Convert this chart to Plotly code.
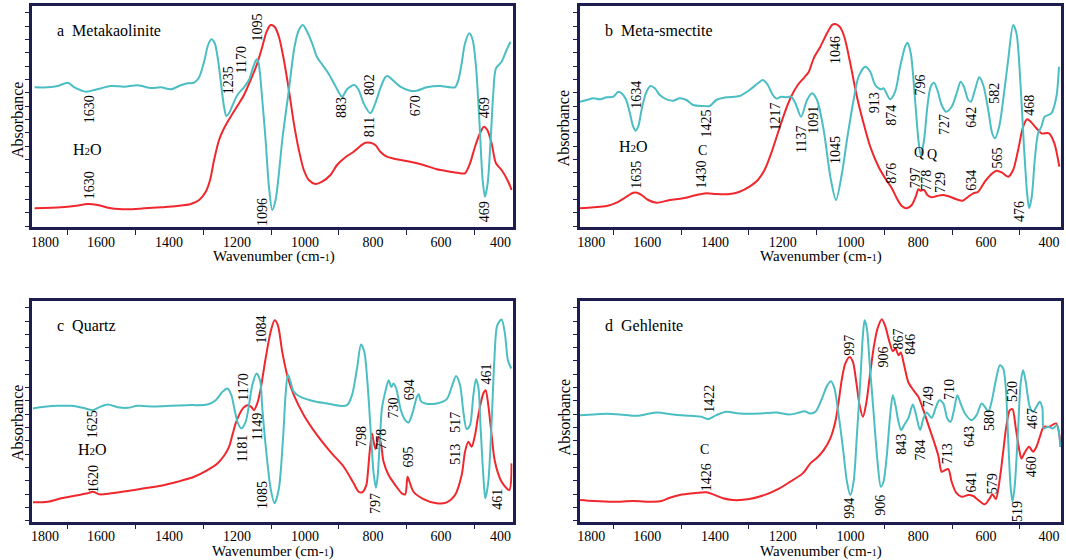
import plotly.graph_objects as go

# ---------------- data (wavenumber cm-1, absorbance a.u.) ----------------
# Panel a: Metakaolinite
a_cyan_wn = [1795.7,1756.6,1727.3,1697.9,1678.4,1644.1,1619.7,1570.8,1531.7,1492.6,1453.4,1424.1,1394.8,1365.4,1345.9,1326.3,1311.6,1297.0,1285.2,1275.4,1265.7,1255.9,1246.1,1238.3,1231.4,1223.6,1210.9,1197.2,1179.6,1165.0,1152.2,1142.4,1137.5,1125.7,1116.0,1106.2,1096.4,1086.6,1076.8,1067.0,1047.5,1030.9,1018.1,1006.4,993.7,979.0,964.4,944.8,930.1,910.6,891.0,876.3,854.8,842.1,827.4,807.9,793.2,778.5,763.9,757.0,744.3,719.9,690.5,671.0,641.6,602.5,573.2,558.5,548.7,539.0,529.2,516.4,506.6,496.9,487.1,477.3,470.5,462.6,453.8,446.0,438.2,421.6,407.0,395.2]
a_cyan_ab = [139.7,139.7,141.0,144.3,139.7,135.3,137.0,141.0,140.3,141.7,139.0,139.7,137.7,141.7,143.7,144.3,149.7,165.3,182.0,187.7,183.7,167.0,140.3,120.3,111.0,113.7,123.7,133.0,139.7,147.0,160.3,167.7,165.3,127.0,87.0,40.3,17.0,27.0,53.7,87.0,137.0,180.3,197.0,202.0,195.3,183.7,169.7,160.3,153.0,141.0,130.3,137.7,142.0,137.0,123.7,113.7,123.7,138.7,149.7,151.0,147.7,140.3,136.3,136.3,139.7,141.0,139.7,139.7,147.0,163.7,183.7,193.7,187.0,160.3,107.0,47.0,30.3,43.7,87.0,133.7,158.7,165.3,177.0,185.3]
a_red_wn = [1795.7,1717.5,1678.4,1639.2,1610.0,1570.8,1521.9,1473.0,1424.1,1375.2,1336.1,1311.6,1292.1,1279.4,1267.6,1252.9,1238.3,1218.7,1199.2,1179.6,1160.1,1140.5,1125.7,1113.0,1101.3,1089.5,1076.8,1062.2,1047.5,1032.8,1018.1,1003.5,988.8,969.2,949.7,925.2,905.7,881.2,856.8,837.2,822.6,807.9,793.2,778.5,759.0,729.6,690.5,651.4,612.3,573.2,543.8,529.2,514.5,499.8,485.1,473.4,463.6,451.0,438.2,421.6,402.0,392.2]
a_red_ab = [18.7,19.7,21.0,23.0,22.0,18.7,17.7,18.7,19.7,21.0,23.0,27.0,35.3,47.0,67.0,87.0,98.7,110.3,121.0,132.0,147.0,163.7,180.3,195.3,202.0,200.3,190.3,167.0,137.0,103.7,77.0,57.0,47.0,43.0,45.3,52.0,62.0,69.7,75.3,81.0,84.3,84.3,82.0,75.3,70.3,67.7,65.3,62.0,57.7,55.3,53.7,53.7,63.7,80.3,93.7,100.3,97.0,83.7,63.7,57.0,45.3,37.0]

# Panel b: Meta-smectite
b_cyan_wn = [1798.1,1778.5,1758.8,1739.2,1719.6,1700.0,1685.3,1675.5,1662.7,1650.9,1641.1,1634.3,1626.4,1616.6,1603.8,1590.1,1577.4,1562.6,1543.0,1523.4,1503.8,1484.2,1464.5,1435.1,1415.5,1395.9,1366.4,1327.2,1297.8,1273.2,1258.5,1243.8,1229.1,1217.3,1204.6,1189.9,1175.2,1162.4,1145.7,1128.1,1113.4,1098.7,1079.0,1059.4,1042.7,1025.1,1010.4,990.8,976.0,956.4,941.7,927.0,910.3,902.5,882.8,868.1,853.4,838.7,831.8,822.0,809.3,799.5,792.6,782.8,773.0,763.2,753.3,743.5,730.8,718.0,701.3,686.6,674.9,665.1,652.3,644.5,632.7,620.0,608.2,593.4,581.7,573.8,561.1,549.3,534.6,519.9,510.1,498.3,488.5,478.7,472.8,464.9,456.1,446.3,436.5,426.7,407.1,392.3,384.5]
b_cyan_ab = [125.3,127.0,128.7,127.7,129.7,130.3,135.3,133.7,127.7,113.7,100.3,96.3,100.3,117.0,133.7,141.0,138.7,132.0,127.7,126.3,128.7,127.0,122.0,121.0,121.0,127.0,129.7,131.0,137.0,143.7,147.0,142.0,132.0,128.3,130.3,129.7,130.3,123.7,110.3,127.0,133.7,127.0,97.0,50.3,27.0,53.7,87.0,127.0,150.3,160.3,155.3,142.0,137.7,138.7,127.7,135.3,160.3,180.3,184.3,173.7,127.0,87.0,72.0,87.0,120.3,140.3,144.3,137.0,122.0,115.3,120.3,133.7,145.3,140.3,127.0,125.3,137.0,149.7,142.0,117.0,93.7,88.7,100.3,127.0,167.0,202.0,193.7,143.7,83.7,33.7,18.7,30.3,67.0,93.7,100.3,110.3,113.7,130.3,160.3]
b_red_wn = [1798.1,1758.8,1719.6,1690.2,1660.7,1641.1,1629.3,1616.6,1597.0,1572.5,1533.2,1494.0,1454.7,1425.3,1395.9,1356.6,1327.2,1297.8,1273.2,1253.6,1234.0,1214.4,1194.8,1175.2,1155.5,1135.9,1123.2,1108.5,1088.9,1069.2,1054.5,1044.7,1031.9,1018.2,1000.6,980.9,961.3,941.7,917.2,897.6,877.9,863.2,848.5,833.8,819.1,807.3,799.5,792.6,782.8,773.0,760.2,745.5,725.9,706.3,686.6,668.9,652.3,637.6,622.9,603.4,586.6,569.0,552.3,534.6,519.9,505.2,490.4,478.7,467.9,451.2,436.5,413.9,398.2,383.5]
b_red_ab = [18.7,19.7,21.0,24.3,30.3,34.3,34.3,32.0,27.0,24.3,27.0,28.7,32.0,33.7,33.0,33.0,35.3,40.3,47.0,57.0,73.7,93.7,113.7,130.3,142.0,149.7,155.0,168.7,180.3,193.7,202.0,203.0,200.3,190.3,163.7,130.3,103.7,80.3,60.3,48.7,38.7,28.7,21.0,18.7,22.0,30.3,37.7,36.3,37.0,32.0,29.7,31.0,32.0,30.3,27.7,26.3,30.3,33.7,35.3,45.3,52.0,56.3,54.3,50.3,57.0,77.0,100.3,107.7,105.3,98.7,93.7,93.7,83.7,60.3]

# Panel c: Quartz
c_cyan_wn = [1800.6,1766.4,1727.3,1688.2,1653.9,1624.6,1605.0,1580.6,1551.2,1521.9,1492.6,1443.7,1394.8,1345.9,1287.2,1262.7,1243.2,1228.5,1216.8,1207.0,1197.2,1187.4,1174.7,1164.9,1155.2,1142.4,1132.0,1125.7,1116.0,1101.3,1089.5,1076.8,1064.1,1057.3,1050.4,1042.6,1032.8,1013.3,974.1,935.0,895.9,876.3,861.7,847.0,835.3,825.5,815.7,806.0,798.1,791.3,786.4,780.5,773.7,763.9,754.1,746.3,739.4,731.6,718.0,705.2,695.4,682.7,670.8,665.1,659.2,646.5,612.3,583.0,568.3,555.6,543.8,534.0,524.3,514.5,504.7,496.9,490.0,483.2,475.4,469.5,460.7,450.9,443.1,434.3,421.6,411.8,403.0,393.2]
c_cyan_ab = [113.4,115.0,116.0,116.0,114.0,111.7,114.7,117.4,114.7,114.0,116.0,115.4,116.0,116.7,117.4,121.7,130.0,133.4,126.7,111.7,98.4,93.4,100.0,116.7,136.7,148.4,141.0,113.4,76.7,33.4,18.4,33.4,86.7,126.7,147.4,140.0,130.0,125.0,120.7,118.4,116.0,116.7,126.7,153.4,177.4,170.0,136.7,86.7,48.4,34.0,45.0,76.7,113.4,130.0,141.7,135.0,138.4,133.4,111.7,101.7,99.4,110.0,125.0,127.7,120.7,118.4,118.4,122.7,135.0,146.0,136.7,110.0,92.7,96.7,126.7,142.7,135.0,93.4,46.7,23.4,40.0,100.0,160.0,196.7,202.4,188.4,161.7,153.4]
c_red_wn = [1800.6,1756.6,1717.5,1678.4,1639.3,1624.6,1605.0,1570.8,1521.9,1473.0,1424.1,1375.2,1326.3,1287.2,1257.8,1238.3,1223.6,1213.8,1204.1,1194.3,1181.5,1169.8,1158.1,1150.3,1140.5,1131.0,1116.0,1101.3,1089.5,1079.8,1067.0,1052.4,1032.8,1003.5,964.4,925.2,886.1,856.8,842.1,832.3,819.6,815.7,809.8,803.0,798.1,792.3,783.4,776.6,768.8,754.1,734.5,715.0,705.2,698.3,692.5,680.7,651.4,612.3,583.0,558.5,539.0,529.2,519.4,509.7,499.8,490.1,475.4,468.5,460.7,450.9,441.1,421.6,399.1,392.2]
c_red_ab = [19.4,20.0,23.4,26.0,28.4,30.0,27.4,28.4,30.7,33.4,36.0,40.0,45.0,51.7,58.4,66.0,75.0,86.7,98.4,106.7,114.0,116.7,115.0,111.7,118.4,132.0,163.4,190.0,201.7,196.7,170.0,146.7,126.7,106.7,86.7,70.0,55.0,38.4,30.0,29.4,36.7,46.7,70.0,88.4,80.0,72.7,85.0,78.4,60.0,46.7,36.7,28.4,27.4,45.0,40.0,30.0,22.7,18.4,19.4,26.7,46.7,70.0,80.0,75.0,86.7,106.7,128.4,131.7,116.7,86.7,60.0,40.0,31.7,58.4]

# Panel d: Gehlenite
d_cyan_wn = [1798.1,1758.8,1719.6,1680.4,1631.3,1572.5,1523.4,1474.3,1440.0,1420.4,1395.9,1366.4,1327.2,1268.4,1219.3,1180.1,1150.6,1135.9,1118.3,1103.6,1084.0,1069.2,1057.5,1047.6,1034.9,1022.1,1010.4,1000.6,990.8,981.0,971.1,963.3,958.4,951.5,943.7,931.9,920.1,910.3,902.5,892.7,882.8,875.0,867.2,858.3,850.5,841.6,828.9,816.1,807.3,794.6,784.7,775.0,760.2,747.5,737.7,725.9,714.1,704.3,694.5,684.7,674.9,662.1,642.5,627.8,613.1,603.2,593.4,583.6,570.9,559.1,549.3,541.5,534.6,527.7,521.8,515.0,505.2,497.3,490.4,482.6,470.8,461.0,451.2,441.4,433.5,429.6,416.9,402.2,390.4,380.6]
d_cyan_ab = [106.7,107.4,108.0,107.4,106.0,109.4,107.4,106.0,105.0,102.7,106.7,110.0,108.4,108.4,109.4,107.4,109.4,110.7,108.4,110.0,123.4,136.0,140.7,134.0,106.7,73.4,40.0,26.7,40.0,86.7,140.0,186.7,201.7,193.4,160.0,110.0,60.0,35.0,40.0,66.7,106.7,126.7,116.7,100.0,91.7,96.7,104.0,117.4,108.4,91.7,103.4,109.4,104.0,115.0,121.7,118.4,103.4,100.0,111.7,126.7,118.4,108.4,101.7,106.7,118.4,115.0,110.0,120.0,141.7,156.7,153.4,133.4,83.4,36.7,20.0,36.7,93.4,140.0,151.7,140.0,115.0,110.0,115.0,120.0,113.4,93.4,95.0,93.4,96.7,75.0]
d_red_wn = [1798.1,1758.8,1700.0,1641.1,1582.3,1557.7,1533.2,1503.8,1464.5,1425.3,1405.7,1376.3,1346.8,1297.8,1248.7,1209.5,1170.2,1140.8,1118.3,1098.7,1079.0,1059.4,1044.7,1034.9,1025.1,1015.3,1002.5,992.7,982.9,973.1,963.3,953.5,943.7,931.9,920.1,907.4,897.6,884.8,875.0,867.1,858.3,851.5,841.6,828.9,814.2,799.5,784.7,770.0,753.3,740.6,730.8,721.0,711.2,701.4,688.6,671.9,652.3,637.6,622.9,603.3,590.5,580.7,570.9,559.1,549.3,539.5,529.7,521.8,512.0,502.2,495.3,485.5,472.8,461.0,451.2,439.4,429.6,413.9,393.3,379.6]
d_red_ab = [21.7,20.7,20.0,20.7,20.0,20.7,24.0,26.7,28.4,29.4,27.4,23.4,21.7,22.7,27.4,33.4,41.7,48.4,58.4,64.0,71.7,83.4,100.0,120.0,143.4,158.4,165.0,160.0,140.0,116.7,105.0,118.4,143.4,173.4,193.4,202.7,196.0,180.0,170.7,173.4,166.7,169.4,156.7,139.4,131.7,125.0,111.7,96.7,80.0,66.0,50.0,51.7,52.7,40.0,29.4,25.0,26.7,25.7,21.7,17.4,22.7,27.4,22.7,43.4,70.0,96.7,111.7,112.7,93.4,72.7,63.4,69.4,75.0,70.0,75.0,86.7,95.0,95.0,98.4,75.0]

# Peak labels: text, wavenumber, absorbance, rotated
a_labels = [("1630",1632,118,1),("1630",1632,42,1),("H<span style='font-size:11px'>2</span>O",1641,77,0),
            ("1235",1223,147,1),("1170",1184,167,1),("1095",1137,200,1),("1096",1124,15,1),
            ("883",891,119,1),("802",808,142,1),("811",808,100,1),("670",673,121,1),
            ("469",470,119,1),("469",470,15,1)]
b_labels = [("1634",1631,132,1),("H<span style='font-size:11px'>2</span>O",1641,80,0),("1635",1631,52,1),
            ("1425",1422,104,1),("1430",1437,53,1),("C",1437,76,0),("1217",1221,110,1),
            ("1137",1143,87,1),("1091",1108,107,1),("1045",1043,77,1),("1046",1043,177,1),
            ("913",927,124,1),("874",878,112,1),("876",878,54,1),("796",793,142,1),
            ("797",806,49,1),("Q",798,74,0),("778",775,47,1),("Q",758,72,0),("729",733,45,1),
            ("727",721,102,1),("642",642,110,1),("634",642,47,1),("582",574,134,1),
            ("565",566,69,1),("468",471,122,1),("476",500,16,1)]
c_labels = [("1625",1623,98,1),("H<span style='font-size:11px'>2</span>O",1625,72,0),("1620",1623,43,1),
            ("1170",1180,135,1),("1181",1184,73,1),("1149",1140,95,1),("1084",1128,192,1),
            ("1085",1123,27,1),("798",832,85,1),("797",793,18,1),("778",774,83,1),
            ("730",739,114,1),("694",690,132,1),("695",695,65,1),("513",556,68,1),
            ("517",556,100,1),("461",466,148,1),("461",432,22,1)]
d_labels = [("1422",1415,123,1),("C",1430,72,0),("1426",1425,45,1),("997",1002,177,1),
            ("994",1001,13,1),("906",902,165,1),("906",910,17,1),("867",858,183,1),
            ("846",822,178,1),("843",848,78,1),("784",793,72,1),("749",770,125,1),
            ("710",706,132,1),("713",714,68,1),("643",647,85,1),("641",642,40,1),
            ("580",588,101,1),("579",581,38,1),("520",520,130,1),("519",505,10,1),
            ("467",461,103,1),("460",466,55,1)]

panel_titles = ["a\u00a0\u00a0Metakaolinite", "b\u00a0\u00a0Meta-smectite", "c\u00a0\u00a0Quartz", "d\u00a0\u00a0Gehlenite"]
xtick_text = ["1800", "1600", "1400", "1200", "1000", "800", "600", "400"]
xminor_vals = [1700, 1500, 1300, 1100, 900, 700, 500]

# ---------------- styling ----------------
W, H = 1066, 560
RED = "#f0272c"
CYAN = "#4bbec3"
FRAME = "#1d1d4f"
SERIF = "Liberation Serif, Times New Roman, serif"

# pixel frames of the panels: (left, right, top, bottom)
frames = [(29, 511, 6, 227), (578.7, 1061, 6, 227), (29, 511, 301, 521.7), (578.7, 1061, 301, 521.7)]
xranges = [[1803.6, 389.3], [1798.0, 378.6], [1803.6, 389.3], [1798.0, 378.6]]
# the edge labels sit inside the frame, as in the original figure
xtick_pos = [[1765, 1600, 1400, 1200, 1000, 800, 600, 425],
             [1765, 1600, 1400, 1200, 1000, 800, 600, 414],
             [1765, 1600, 1400, 1200, 1000, 800, 600, 425],
             [1765, 1600, 1400, 1200, 1000, 800, 600, 414]]
yrange = [0, 221]
ytick_vals = [1 + 13.33 * k for k in range(17)]

panels = [
    (a_cyan_wn, a_cyan_ab, a_red_wn, a_red_ab, a_labels),
    (b_cyan_wn, b_cyan_ab, b_red_wn, b_red_ab, b_labels),
    (c_cyan_wn, c_cyan_ab, c_red_wn, c_red_ab, c_labels),
    (d_cyan_wn, d_cyan_ab, d_red_wn, d_red_ab, d_labels),
]

fig = go.Figure()
annotations = []
layout = {}
for i, (cw, ca, rw, ra, labels) in enumerate(panels):
    n = "" if i == 0 else str(i + 1)
    xa, ya = "x" + n, "y" + n
    fig.add_trace(go.Scatter(x=rw, y=ra, xaxis=xa, yaxis=ya, mode="lines",
                             line=dict(color=RED, width=2, shape="spline", smoothing=0.8),
                             showlegend=False, hoverinfo="skip"))
    fig.add_trace(go.Scatter(x=cw, y=ca, xaxis=xa, yaxis=ya, mode="lines",
                             line=dict(color=CYAN, width=2, shape="spline", smoothing=0.8),
                             showlegend=False, hoverinfo="skip"))
    l, r, t, b = frames[i]
    layout["xaxis" + n] = dict(
        domain=[l / W, r / W], anchor=ya, range=xranges[i],
        tickmode="array", tickvals=xtick_pos[i], ticktext=xtick_text, ticks="",
        ticklabelstandoff=0,
        minor=dict(tickmode="array", tickvals=xminor_vals, ticks="outside", ticklen=5,
                   tickwidth=1, tickcolor=FRAME),
        showline=True, mirror=True, linecolor=FRAME, linewidth=2.5,
        showgrid=False, zeroline=False,
        tickfont=dict(family=SERIF, size=14, color="black"))
    layout["yaxis" + n] = dict(
        domain=[1 - b / H, 1 - t / H], anchor=xa, range=yrange,
        tickmode="array", tickvals=ytick_vals, ticks="outside", ticklen=4,
        tickwidth=1, tickcolor=FRAME, showticklabels=False,
        showline=True, mirror=True, linecolor=FRAME, linewidth=2.5,
        showgrid=False, zeroline=False)
    for (txt, wn, ab, rot) in labels:
        annotations.append(dict(
            text=txt, x=wn, y=ab, xref=xa, yref=ya, showarrow=False,
            textangle=-90 if rot else 0, xanchor="center", yanchor="middle",
            font=dict(family=SERIF, size=14 if rot else (14 if txt in ("Q", "C") else 16), color="black")))
    # panel title
    annotations.append(dict(
        text=panel_titles[i], x=(l + 23) / W, y=1 - (t + 24) / H, xref="paper", yref="paper",
        showarrow=False, xanchor="left", yanchor="middle",
        font=dict(family=SERIF, size=16, color="black")))

# axis titles
ytitle_pos = [(14, 120), (563, 128), (14, 423), (563, 417)]
xtitle_pos = [(272, 257), (820, 257), (271, 551), (820, 551)]
for (px, py) in ytitle_pos:
    annotations.append(dict(text="Absorbance", x=px / W, y=1 - py / H, xref="paper", yref="paper",
                            showarrow=False, textangle=-90, xanchor="center", yanchor="middle",
                            font=dict(family=SERIF, size=16, color="black")))
for (px, py) in xtitle_pos:
    annotations.append(dict(text="Wavenumber (cm-<span style='font-size:10px'>1</span>)",
                            x=px / W, y=1 - py / H, xref="paper", yref="paper",
                            showarrow=False, xanchor="center", yanchor="middle",
                            font=dict(family=SERIF, size=15, color="black")))

fig.update_layout(width=W, height=H, margin=dict(l=0, r=0, t=0, b=0),
                  paper_bgcolor="white", plot_bgcolor="white",
                  annotations=annotations, **layout)

fig.write_html("out.html")
